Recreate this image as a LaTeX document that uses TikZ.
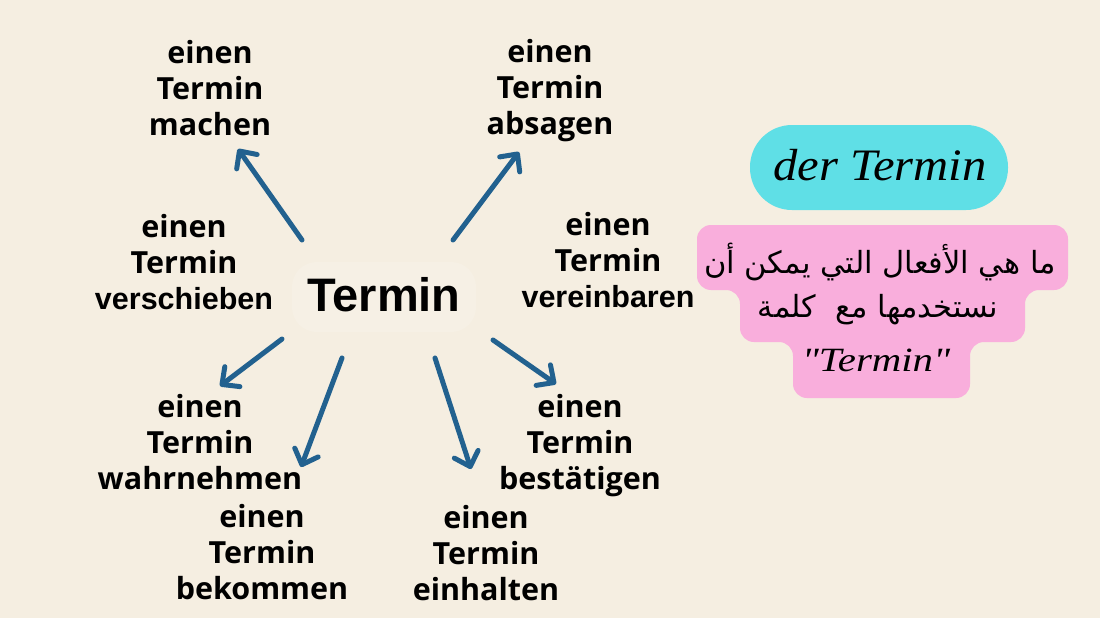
\documentclass[tikz,border=0pt]{standalone}
\usepackage{fontspec}
\usetikzlibrary{arrows.meta}
\TeXXeTstate=1
\newfontfamily\osans{Open Sans}
\newfontfamily\lsans{Liberation Sans}
\newfontfamily\lserif[FakeStretch=1.08]{Liberation Serif}
\newfontfamily\lserifw[FakeStretch=1.2]{Liberation Serif}
\newfontfamily\arabicfont[Script=Arabic]{DejaVu Sans}
\definecolor{bg}{HTML}{F5EEE1}
\definecolor{arrowblue}{HTML}{22618F}
\definecolor{cyanbox}{HTML}{5FDFE6}
\definecolor{pinkbox}{HTML}{F9AEDC}
\tikzset{
  blk/.style={align=center, inner sep=0pt, text=black,
    font=\osans\bfseries\fontsize{30.5}{36}\selectfont},
  arrowline/.style={draw=arrowblue, line width=5pt, line cap=round, line join=round,
    -{Straight Barb[length=13pt,width=25pt,round]}},
}
\begin{document}
\begin{tikzpicture}[x=1pt,y=-1pt]
\useasboundingbox (0,0) rectangle (1100,618);
\fill[bg] (0,0) rectangle (1100,618);
% faint glow behind centre word
\fill[white,opacity=0.15,rounded corners=25pt] (292,262) rectangle (476,332);

% centre
\node[inner sep=0pt,font=\lsans\bfseries\fontsize{47}{50}\selectfont] (center) at (384,295) {Termin};

% blocks
\node[blk] (machen) at (210,88) {einen\\Termin\\machen};
\node[blk] (absagen) at (550,91) {einen\\Termin\\absagen};
\node[blk] (verschieben) at (184,262) {einen\\Termin\\{\lsans\bfseries verschieben}};
\node[blk] (vereinbaren) at (608,260) {einen\\Termin\\{\lsans\bfseries vereinbaren}};
\node[blk] (wahrnehmen) at (200,442) {einen\\Termin\\wahrnehmen};
\node[blk] (bekommen) at (262,552) {einen\\Termin\\bekommen};
\node[blk] (bestaetigen) at (580,446) {einen\\Termin\\bestätigen};
\node[blk] (einhalten) at (486,553) {einen\\Termin\\einhalten};

% arrow endpoints
\coordinate (t1) at (302,240); \coordinate (h1) at (238,149);
\coordinate (t2) at (453,240); \coordinate (h2) at (519,152);
\coordinate (t3) at (282,339); \coordinate (h3) at (220,386);
\coordinate (t4) at (342,358); \coordinate (h4) at (301,467);
\coordinate (t5) at (435,358); \coordinate (h5) at (471,469);
\coordinate (t6) at (493,340); \coordinate (h6) at (556,384);
\draw[arrowline] (t1) -- (h1);
\draw[arrowline] (t2) -- (h2);
\draw[arrowline] (t3) -- (h3);
\draw[arrowline] (t4) -- (h4);
\draw[arrowline] (t5) -- (h5);
\draw[arrowline] (t6) -- (h6);

% cyan pill
\fill[cyanbox,rounded corners=42pt] (750,125) rectangle (1008,210);
\node[inner sep=0pt,font=\lserif\itshape\fontsize{45}{50}\selectfont] (der) at (880,165) {der Termin};

% pink stepped box
\fill[pinkbox,rounded corners=14pt]
  (697,225) -- (1068,225) -- (1068,290) -- (1025,290) -- (1025,342) -- (970,342)
  -- (970,398) -- (793,398) -- (793,342) -- (740,342) -- (740,290) -- (697,290) -- cycle;
\node[inner sep=0pt,font=\fontsize{30.5}{36}\selectfont] (ar1) at (880,262) {\arabicfont\beginR ما هي الأفعال التي يمكن أن\endR};
\node[inner sep=0pt,font=\fontsize{30.5}{36}\selectfont] (ar2) at (878,310) {\arabicfont\beginR نستخدمها مع~~كلمة\endR};
\node[inner sep=0pt,font=\lserifw\itshape\fontsize{34}{40}\selectfont] (ar3) at (876,360) {"Termin"};
\end{tikzpicture}
\end{document}
